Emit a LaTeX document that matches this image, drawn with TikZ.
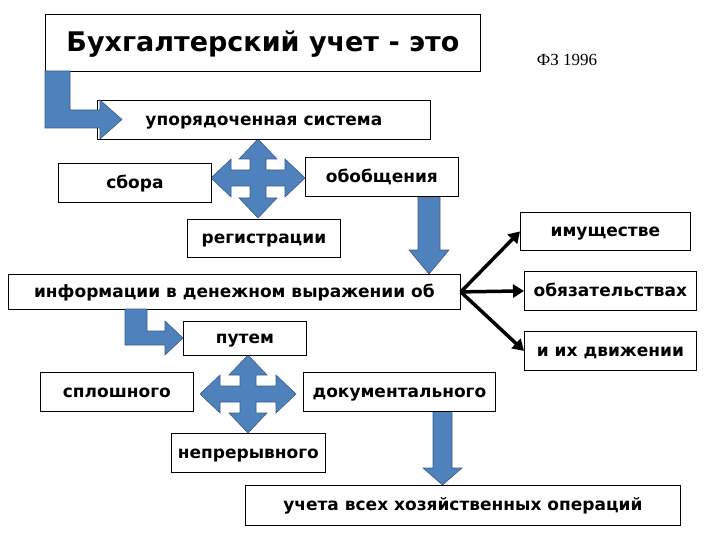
\documentclass[tikz,border=0pt]{standalone}
\usepackage{fontspec}
\setmainfont{DejaVu Sans}
\newfontfamily\seriff{Liberation Serif}
\usetikzlibrary{arrows.meta}
\definecolor{barrow}{HTML}{4F81BD}
\definecolor{barrowd}{HTML}{385D8A}
\tikzset{
 bx/.style={draw=black,fill=white,line width=0.8pt,font=\bfseries\fontsize{17}{19}\selectfont,inner sep=0pt,anchor=north west,text height=12pt,text depth=1pt},
 blue/.style={fill=barrow,draw=barrowd,line width=0.6pt},
 blk/.style={line width=3.5pt,-{Triangle[length=11pt,width=13pt]}}
}
% quad arrow: #1 cx, #2 cy, #3 left, #4 right, #5 up, #6 down (distances)
\newcommand\quadarr[6]{%
 \begin{scope}[shift={(#1,#2)}]
 \def\w{8}\def\h{19}\def\hl{20}
 \pgfmathsetmacro\R{#4-\hl}\pgfmathsetmacro\L{#3-\hl}\pgfmathsetmacro\U{#5-\hl}\pgfmathsetmacro\D{#6-\hl}
 \draw[blue] (\w,-\w) -- (\R,-\w) -- (\R,-\h) -- (#4,0) -- (\R,\h) -- (\R,\w) -- (\w,\w)
  -- (\w,\D) -- (\h,\D) -- (0,#6) -- (-\h,\D) -- (-\w,\D) -- (-\w,\w)
  -- (-\L,\w) -- (-\L,\h) -- (-#3,0) -- (-\L,-\h) -- (-\L,-\w) -- (-\w,-\w)
  -- (-\w,-\U) -- (-\h,-\U) -- (0,-#5) -- (\h,-\U) -- (\w,-\U) -- cycle;
 \end{scope}}
\begin{document}
\begin{tikzpicture}[x=1pt,y=-1pt]
\useasboundingbox (0,0) rectangle (720,540);
\fill[white] (0,0) rectangle (720,540);
\draw[blue] (418,196) -- (440,196) -- (440,250) -- (449,250) -- (429,274) -- (409,250) -- (418,250) -- cycle;
\draw[blue] (433,411) -- (452,411) -- (452,468) -- (462,468) -- (442.5,485) -- (423,468) -- (433,468) -- cycle;
\quadarr{258}{178}{47}{47}{39}{40}
\quadarr{248}{394}{48}{48}{39}{39}
% boxes
\node[bx,minimum width=435,minimum height=57,font=\bfseries\fontsize{27}{30}\selectfont,text height=19pt,text depth=2pt] (t) at (45,14) {Бухгалтерский учет - это};
\node[font=\seriff\fontsize{17}{19}\selectfont] (fz) at (567,60) {ФЗ 1996};
\node[bx,minimum width=333,minimum height=39] (s) at (97,100) {упорядоченная система};
\node[bx,minimum width=153,minimum height=39] (sb) at (58,163) {сбора};
\node[bx,minimum width=153,minimum height=39] (ob) at (305,157) {обобщения};
\node[bx,minimum width=153,minimum height=38] (rg) at (187,219) {регистрации};
\node[bx,minimum width=452,minimum height=35] (inf) at (8,274) {информации в денежном выражении об};
\node[bx,minimum width=170,minimum height=38] (im) at (520,212) {имуществе};
\node[bx,minimum width=172,minimum height=39] (oz) at (524,271) {обязательствах};
\node[bx,minimum width=172,minimum height=39] (dv) at (524,331) {и их движении};
\node[bx,minimum width=123,minimum height=34] (pt) at (183,321) {путем};
\node[bx,minimum width=153,minimum height=39] (sp) at (40,372) {сплошного};
\node[bx,minimum width=192,minimum height=39] (dk) at (303,372) {документального};
\node[bx,minimum width=154,minimum height=39] (np) at (171,433) {непрерывного};
\node[bx,minimum width=435,minimum height=40] (uc) at (245,485) {учета всех хозяйственных операций};
% L arrows on top
\draw[blue] (45,71) -- (70,71) -- (70,110) -- (100,110) -- (100,100) -- (122,119.5) -- (100,139) -- (100,128) -- (45,128) -- cycle;
\draw[blue] (125,309) -- (147,309) -- (147,331) -- (165,331) -- (165,321) -- (183,338) -- (165,355) -- (165,345) -- (125,345) -- cycle;
% black arrows
\coordinate (o) at (inf.east);
\draw[blk] (o) -- (im.west);
\draw[blk] (o) -- (oz.west);
\draw[blk] (o) -- (dv.west);
\end{tikzpicture}
\end{document}
